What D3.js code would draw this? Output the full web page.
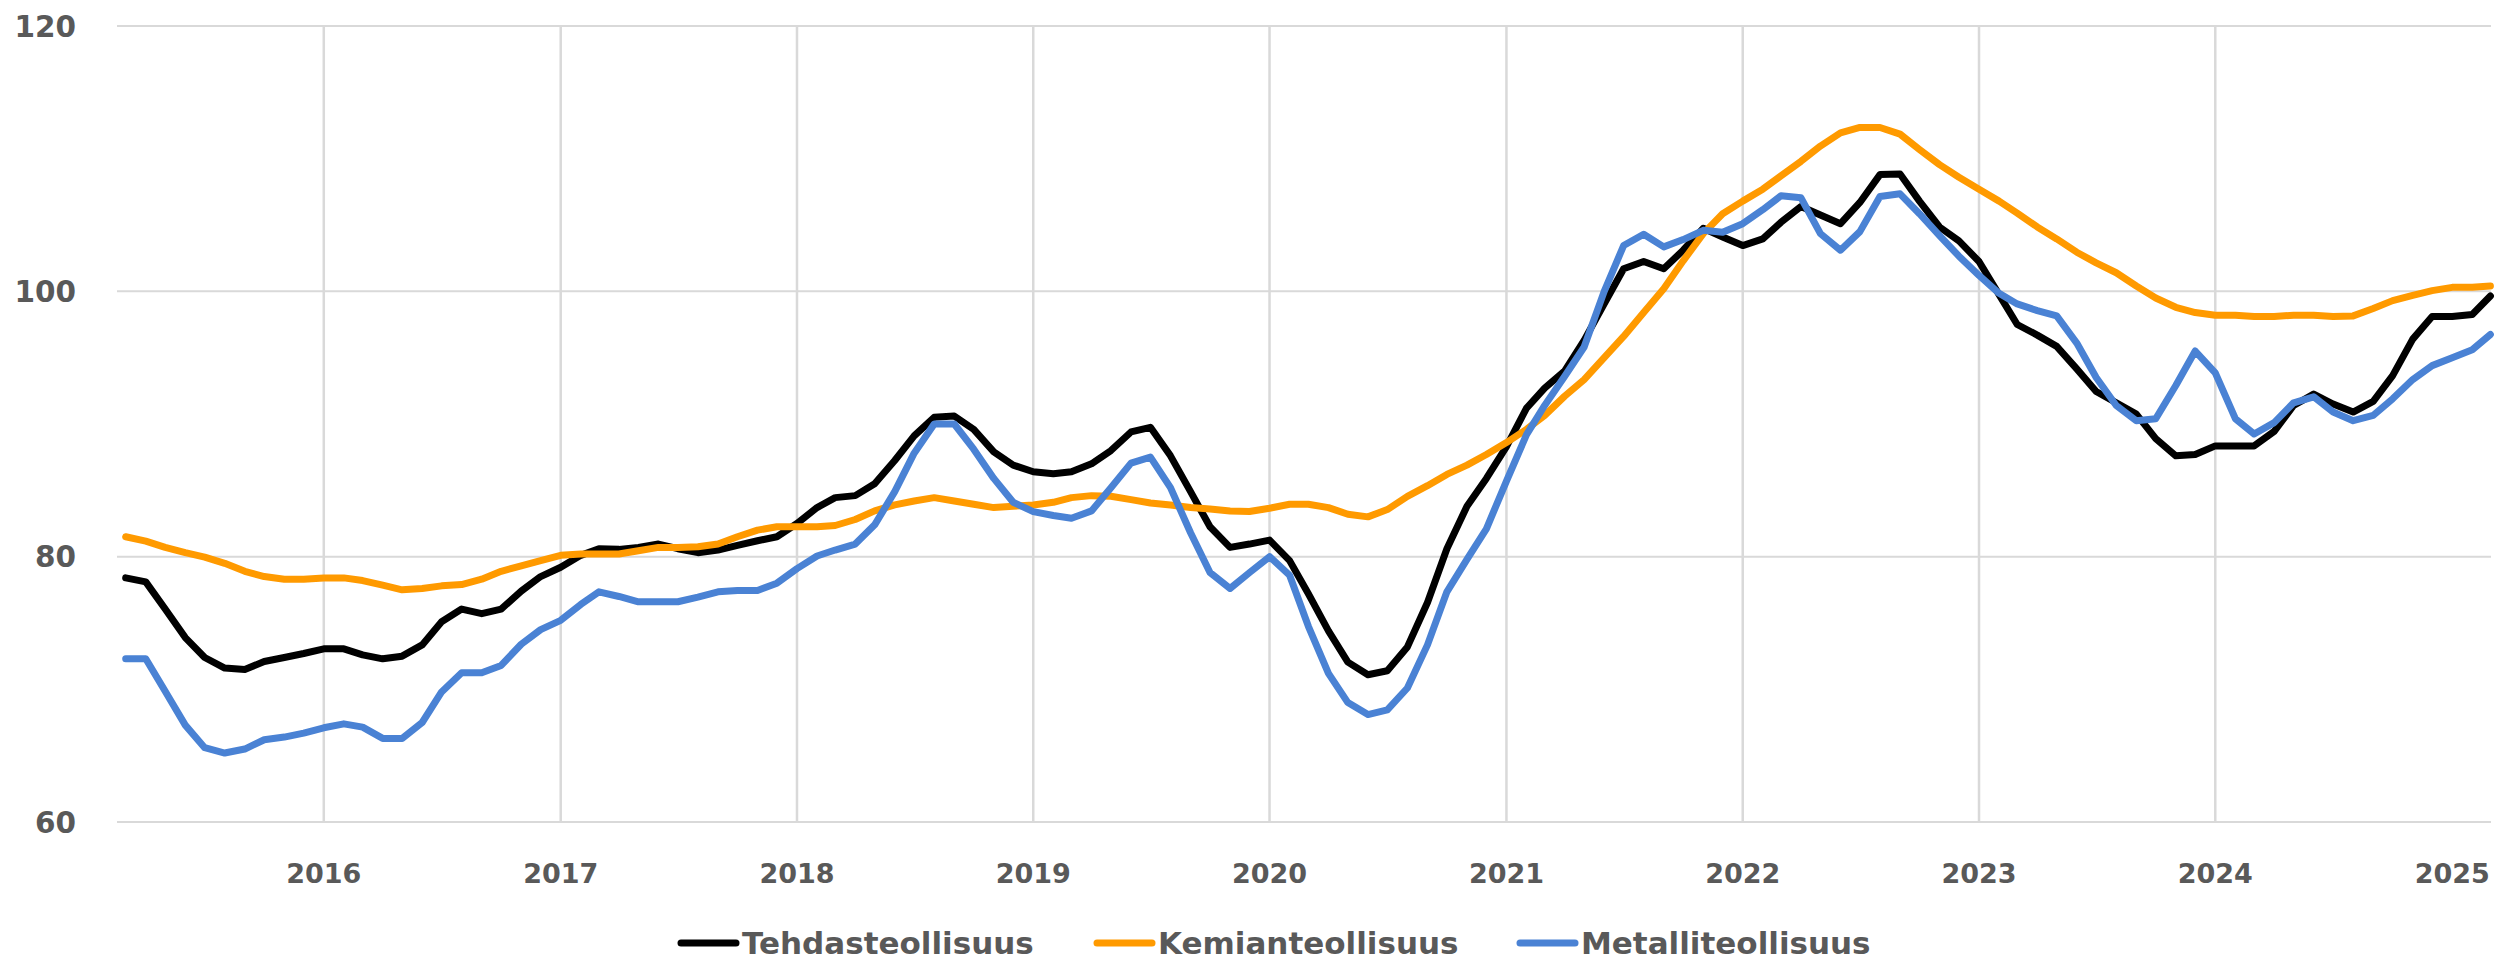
<!DOCTYPE html>
<html>
<head>
<meta charset="utf-8">
<script src="https://cdn.jsdelivr.net/npm/d3@7.9.0/dist/d3.min.js"></script>
<style>
  body { margin: 0; background: #fff; }
  text { font-family: "DejaVu Sans", Verdana, sans-serif; font-weight: bold; fill: #595959; }
</style>
</head>
<body>
<div id="chart"></div>
<script>
// Monthly index values, Mar 2015 .. Mar 2025 (121 months)
const startMonth = new Date(2015, 2, 1);
const endMonth = new Date(2025, 2, 1);

const seriesNames = ['Tehdasteollisuus', 'Kemianteollisuus', 'Metalliteollisuus'];
const seriesColors = ['#000000', '#FF9A00', '#4A82D4'];

const tehdas = [
  78.4, 78.1, 76.05, 73.9, 72.4, 71.6, 71.5, 72.1, 72.4, 72.7,
  73.05, 73.05, 72.6, 72.3, 72.5, 73.35, 75.1, 76.05, 75.7, 76.05,
  77.4, 78.5, 79.2, 80.1, 80.6, 80.55, 80.7, 80.95, 80.6, 80.3,
  80.5, 80.85, 81.2, 81.5, 82.5, 83.7, 84.45, 84.6, 85.5, 87.25,
  89.1, 90.5, 90.6, 89.6, 87.9, 86.9, 86.4, 86.25, 86.4, 87.0,
  88.0, 89.4, 89.75, 87.6, 84.9, 82.25, 80.7, 80.95, 81.25, 79.7,
  77.2, 74.4, 72.05, 71.1, 71.4, 73.2, 76.55, 80.6, 83.8, 85.9,
  88.3, 91.2, 92.7, 94.0, 96.3, 99.05, 101.7, 102.25, 101.7, 103.1,
  104.75, 104.1, 103.45, 103.95, 105.2, 106.4, 105.75, 105.1, 106.7, 108.8,
  108.85, 106.8, 104.85, 103.8, 102.25, 99.75, 97.5, 96.7, 95.85, 94.15,
  92.45, 91.6, 90.75, 88.9, 87.6, 87.7, 88.35, 88.35, 88.35, 89.45,
  91.4, 92.25, 91.5, 90.9, 91.7, 93.65, 96.4, 98.1, 98.1, 98.25,
  99.65
];

const kemian = [
  81.5, 81.17, 80.7, 80.3, 79.97, 79.5, 78.9, 78.5, 78.3, 78.3,
  78.4, 78.4, 78.2, 77.85, 77.5, 77.6, 77.8, 77.9, 78.3, 78.9,
  79.3, 79.7, 80.1, 80.2, 80.2, 80.2, 80.45, 80.7, 80.7, 80.75,
  80.95, 81.5, 82.0, 82.25, 82.25, 82.25, 82.35, 82.8, 83.45, 83.9,
  84.2, 84.45, 84.2, 83.95, 83.7, 83.8, 83.9, 84.1, 84.45, 84.6,
  84.55, 84.3, 84.05, 83.9, 83.7, 83.6, 83.45, 83.4, 83.65, 83.95,
  83.95, 83.7, 83.2, 83.0, 83.55, 84.55, 85.35, 86.2, 86.9, 87.7,
  88.6, 89.6, 90.65, 92.1, 93.35, 95.0, 96.6, 98.4, 100.2, 102.3,
  104.35, 105.85, 106.8, 107.7, 108.7, 109.8, 110.95, 111.95, 112.35, 112.35,
  111.85, 110.7, 109.55, 108.6, 107.7, 106.8, 105.9, 104.85, 103.95, 102.95,
  102.15, 101.4, 100.4, 99.5, 98.8, 98.4, 98.2, 98.2, 98.1, 98.1,
  98.2, 98.2, 98.1, 98.15, 98.7, 99.3, 99.7, 100.05, 100.3, 100.3,
  100.4
];

const metalli = [
  72.3, 72.3, 69.85, 67.3, 65.6, 65.2, 65.5, 66.2, 66.4, 66.7,
  67.1, 67.4, 67.15, 66.3, 66.3, 67.5, 69.8, 71.25, 71.25, 71.8,
  73.4, 74.5, 75.2, 76.4, 77.35, 77.0, 76.6, 76.6, 76.6, 76.95,
  77.35, 77.45, 77.45, 78.0, 79.1, 80.05, 80.5, 80.95, 82.4, 84.9,
  87.8, 90.0, 90.0, 88.1, 85.9, 84.1, 83.4, 83.1, 82.9, 83.45,
  85.2, 87.05, 87.5, 85.2, 81.8, 78.8, 77.6, 78.8, 80.0, 78.6,
  74.75, 71.2, 69.0, 68.1, 68.45, 70.1, 73.35, 77.35, 79.8, 82.1,
  85.7, 89.2, 91.4, 93.6, 95.8, 100.0, 103.45, 104.3, 103.35, 103.9,
  104.6, 104.45, 105.1, 106.15, 107.2, 107.05, 104.35, 103.1, 104.5, 107.15,
  107.35, 105.85, 104.2, 102.65, 101.2, 99.85, 99.05, 98.55, 98.15, 96.1,
  93.5, 91.4, 90.25, 90.4, 92.9, 95.5, 93.85, 90.4, 89.25, 90.1,
  91.6, 92.05, 90.9, 90.25, 90.65, 91.9, 93.35, 94.4, 95.0, 95.6,
  96.75
];

const yTicks = [60, 80, 100, 120];
const xTickYears = [2016, 2017, 2018, 2019, 2020, 2021, 2022, 2023, 2024, 2025];

const months = d3.timeMonth.range(startMonth, d3.timeMonth.offset(endMonth, 1));
const series = [tehdas, kemian, metalli].map((vals, k) => ({
  name: seriesNames[k],
  color: seriesColors[k],
  values: vals.map((v, i) => ({ date: months[i], value: v })),
}));

const width = 2496;
const height = 960;
const plot = { left: 117, right: 2491, top: 26, bottom: 822 };

const svg = d3.select('#chart').append('svg')
  .attr('width', width)
  .attr('height', height);

const xScale = d3.scaleTime()
  .domain([startMonth, endMonth])
  .range([125.7, 2490.4]);

const yScale = d3.scaleLinear()
  .domain([60, 120])
  .range([plot.bottom, plot.top]);

// horizontal gridlines
svg.append('g')
  .selectAll('line')
  .data(yTicks)
  .join('line')
  .attr('x1', plot.left)
  .attr('x2', plot.right)
  .attr('y1', d => yScale(d))
  .attr('y2', d => yScale(d))
  .attr('stroke', '#D9D9D9')
  .attr('stroke-width', 2);

// vertical gridlines at year starts (none drawn for the last label)
svg.append('g')
  .selectAll('line')
  .data(xTickYears.slice(0, -1))
  .join('line')
  .attr('x1', d => xScale(new Date(d, 0, 1)))
  .attr('x2', d => xScale(new Date(d, 0, 1)))
  .attr('y1', plot.top)
  .attr('y2', plot.bottom)
  .attr('stroke', '#D9D9D9')
  .attr('stroke-width', 2.5);

// y axis labels
svg.append('g')
  .selectAll('text')
  .data(yTicks)
  .join('text')
  .attr('x', 76)
  .attr('y', d => yScale(d))
  .attr('dy', '0.36em')
  .attr('text-anchor', 'end')
  .style('font-size', '29.5px')
  .text(d => d);

// x axis labels
svg.append('g')
  .selectAll('text')
  .data(xTickYears)
  .join('text')
  .attr('x', d => xScale(new Date(d, 0, 1)))
  .attr('y', 883)
  .attr('text-anchor', 'middle')
  .style('font-size', '27px')
  .text(d => d);

// lines
const line = d3.line()
  .x(d => xScale(d.date))
  .y(d => yScale(d.value));

svg.append('g')
  .selectAll('path')
  .data(series)
  .join('path')
  .attr('d', d => line(d.values))
  .attr('fill', 'none')
  .attr('stroke', d => d.color)
  .attr('stroke-width', 7)
  .attr('stroke-linejoin', 'round')
  .attr('stroke-linecap', 'round');

// legend
const legendX = [681, 1097, 1520];
const legendY = 943;
const legend = svg.append('g')
  .selectAll('g')
  .data(series)
  .join('g')
  .attr('transform', (d, i) => `translate(${legendX[i]}, ${legendY})`);

legend.append('line')
  .attr('x1', 0)
  .attr('x2', 55)
  .attr('stroke', d => d.color)
  .attr('stroke-width', 7)
  .attr('stroke-linecap', 'round');

legend.append('text')
  .attr('x', 61)
  .attr('dy', '0.36em')
  .style('font-size', '31px')
  .text(d => d.name);
</script>
</body>
</html>
